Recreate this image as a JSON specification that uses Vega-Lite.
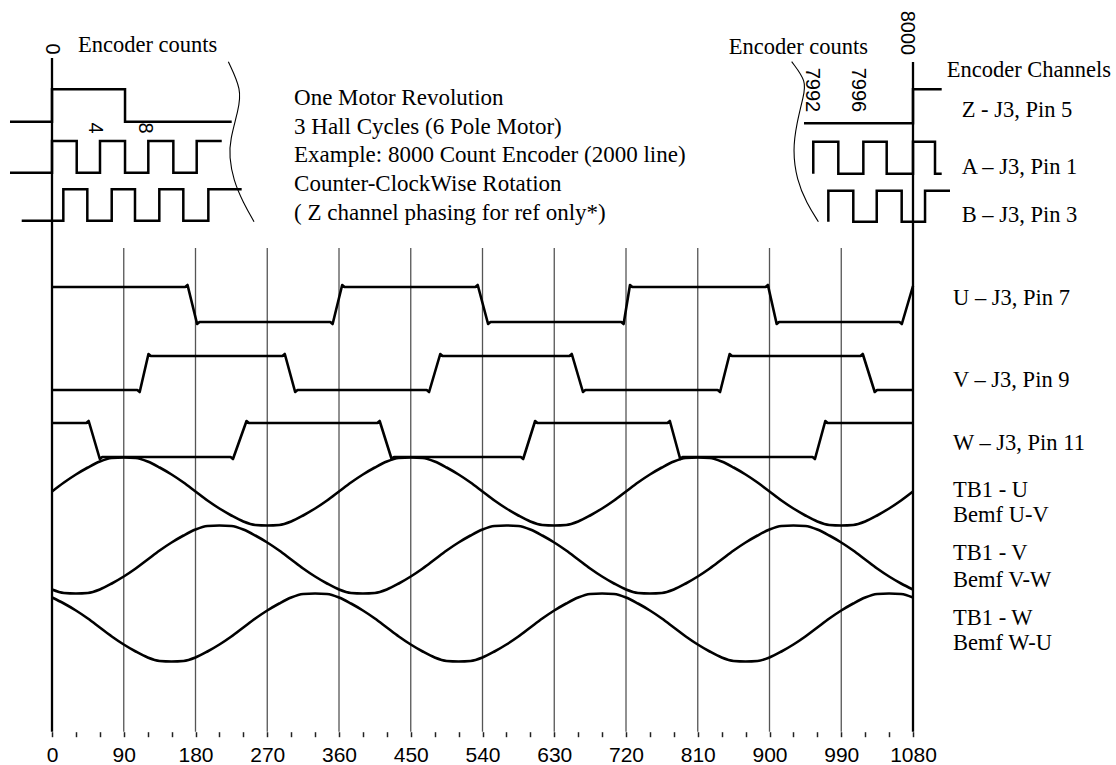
{
  "$schema": "https://vega.github.io/schema/vega-lite/v6.json",
  "width": 1116,
  "height": 765,
  "autosize": {"type": "none"},
  "padding": 0,
  "background": "white",
  "config": {"view": {"stroke": null}},
  "datasets": {
    "gridlines": [{"deg":90,"v":248},{"deg":180,"v":248},{"deg":270,"v":248},{"deg":360,"v":248},{"deg":450,"v":248},{"deg":540,"v":248},{"deg":630,"v":248},{"deg":720,"v":248},{"deg":810,"v":248},{"deg":900,"v":248},{"deg":990,"v":248}],
    "borders": [{"deg":0,"v":58},{"deg":1080,"v":62}],
    "hall": [
      {"sig":"U","deg":0,"v":287},{"sig":"U","deg":167,"v":287},{"sig":"U","deg":170,"v":285},{"sig":"U","deg":182,"v":324},{"sig":"U","deg":185,"v":322},
      {"sig":"U","deg":349,"v":322},{"sig":"U","deg":352,"v":324},{"sig":"U","deg":364,"v":285},{"sig":"U","deg":367,"v":287},
      {"sig":"U","deg":531,"v":287},{"sig":"U","deg":534,"v":285},{"sig":"U","deg":547,"v":324},{"sig":"U","deg":550,"v":322},
      {"sig":"U","deg":714,"v":322},{"sig":"U","deg":717,"v":324},{"sig":"U","deg":725,"v":285},{"sig":"U","deg":728,"v":287},
      {"sig":"U","deg":895,"v":287},{"sig":"U","deg":898,"v":285},{"sig":"U","deg":909,"v":324},{"sig":"U","deg":912,"v":322},
      {"sig":"U","deg":1063,"v":322},{"sig":"U","deg":1066,"v":324},{"sig":"U","deg":1080,"v":286},
      {"sig":"V","deg":0,"v":390},{"sig":"V","deg":107,"v":390},{"sig":"V","deg":110,"v":392},{"sig":"V","deg":121,"v":354},{"sig":"V","deg":124,"v":356},
      {"sig":"V","deg":289,"v":356},{"sig":"V","deg":292,"v":354},{"sig":"V","deg":305,"v":392},{"sig":"V","deg":308,"v":390},
      {"sig":"V","deg":470,"v":390},{"sig":"V","deg":473,"v":392},{"sig":"V","deg":487,"v":354},{"sig":"V","deg":490,"v":356},
      {"sig":"V","deg":649,"v":356},{"sig":"V","deg":652,"v":354},{"sig":"V","deg":666,"v":392},{"sig":"V","deg":669,"v":390},
      {"sig":"V","deg":835,"v":390},{"sig":"V","deg":838,"v":392},{"sig":"V","deg":850,"v":354},{"sig":"V","deg":853,"v":356},
      {"sig":"V","deg":1014,"v":356},{"sig":"V","deg":1017,"v":354},{"sig":"V","deg":1032,"v":392},{"sig":"V","deg":1035,"v":390},{"sig":"V","deg":1080,"v":390},
      {"sig":"W","deg":0,"v":423},{"sig":"W","deg":43,"v":423},{"sig":"W","deg":46,"v":421},{"sig":"W","deg":60,"v":459},{"sig":"W","deg":63,"v":457},
      {"sig":"W","deg":224,"v":457},{"sig":"W","deg":227,"v":459},{"sig":"W","deg":244,"v":421},{"sig":"W","deg":247,"v":423},
      {"sig":"W","deg":408,"v":423},{"sig":"W","deg":411,"v":421},{"sig":"W","deg":426,"v":459},{"sig":"W","deg":429,"v":457},
      {"sig":"W","deg":588,"v":457},{"sig":"W","deg":591,"v":459},{"sig":"W","deg":606,"v":421},{"sig":"W","deg":609,"v":423},
      {"sig":"W","deg":772,"v":423},{"sig":"W","deg":775,"v":421},{"sig":"W","deg":788,"v":459},{"sig":"W","deg":791,"v":457},
      {"sig":"W","deg":954,"v":457},{"sig":"W","deg":957,"v":459},{"sig":"W","deg":970,"v":421},{"sig":"W","deg":973,"v":423},{"sig":"W","deg":1080,"v":423}
    ],
    "bemf": [
      {"deg":0,"bu":491.5,"bv":589.5,"bw":597.5},{"deg":15,"bu":482.5,"bv":593,"bw":603.5},{"deg":30,"bu":474.5,"bv":593.5,"bw":610.5},{"deg":45,"bu":467.5,"bv":593,"bw":618.5},
      {"deg":60,"bu":461.5,"bv":589.5,"bw":627.5},{"deg":75,"bu":458,"bv":583.5,"bw":636.5},{"deg":90,"bu":457.5,"bv":576.5,"bw":644.5},{"deg":105,"bu":458,"bv":568.5,"bw":651.5},
      {"deg":120,"bu":461.5,"bv":559.5,"bw":657.5},{"deg":135,"bu":467.5,"bv":550.5,"bw":661},{"deg":150,"bu":474.5,"bv":542.5,"bw":661.5},{"deg":165,"bu":482.5,"bv":535.5,"bw":661},
      {"deg":180,"bu":491.5,"bv":529.5,"bw":657.5},{"deg":195,"bu":500.5,"bv":526,"bw":651.5},{"deg":210,"bu":508.5,"bv":525.5,"bw":644.5},{"deg":225,"bu":515.5,"bv":526,"bw":636.5},
      {"deg":240,"bu":521.5,"bv":529.5,"bw":627.5},{"deg":255,"bu":525,"bv":535.5,"bw":618.5},{"deg":270,"bu":525.5,"bv":542.5,"bw":610.5},{"deg":285,"bu":525,"bv":550.5,"bw":603.5},
      {"deg":300,"bu":521.5,"bv":559.5,"bw":597.5},{"deg":315,"bu":515.5,"bv":568.5,"bw":594},{"deg":330,"bu":508.5,"bv":576.5,"bw":593.5},{"deg":345,"bu":500.5,"bv":583.5,"bw":594},
      {"deg":360,"bu":491.5,"bv":589.5,"bw":597.5},{"deg":375,"bu":482.5,"bv":593,"bw":603.5},{"deg":390,"bu":474.5,"bv":593.5,"bw":610.5},{"deg":405,"bu":467.5,"bv":593,"bw":618.5},
      {"deg":420,"bu":461.5,"bv":589.5,"bw":627.5},{"deg":435,"bu":458,"bv":583.5,"bw":636.5},{"deg":450,"bu":457.5,"bv":576.5,"bw":644.5},{"deg":465,"bu":458,"bv":568.5,"bw":651.5},
      {"deg":480,"bu":461.5,"bv":559.5,"bw":657.5},{"deg":495,"bu":467.5,"bv":550.5,"bw":661},{"deg":510,"bu":474.5,"bv":542.5,"bw":661.5},{"deg":525,"bu":482.5,"bv":535.5,"bw":661},
      {"deg":540,"bu":491.5,"bv":529.5,"bw":657.5},{"deg":555,"bu":500.5,"bv":526,"bw":651.5},{"deg":570,"bu":508.5,"bv":525.5,"bw":644.5},{"deg":585,"bu":515.5,"bv":526,"bw":636.5},
      {"deg":600,"bu":521.5,"bv":529.5,"bw":627.5},{"deg":615,"bu":525,"bv":535.5,"bw":618.5},{"deg":630,"bu":525.5,"bv":542.5,"bw":610.5},{"deg":645,"bu":525,"bv":550.5,"bw":603.5},
      {"deg":660,"bu":521.5,"bv":559.5,"bw":597.5},{"deg":675,"bu":515.5,"bv":568.5,"bw":594},{"deg":690,"bu":508.5,"bv":576.5,"bw":593.5},{"deg":705,"bu":500.5,"bv":583.5,"bw":594},
      {"deg":720,"bu":491.5,"bv":589.5,"bw":597.5},{"deg":735,"bu":482.5,"bv":593,"bw":603.5},{"deg":750,"bu":474.5,"bv":593.5,"bw":610.5},{"deg":765,"bu":467.5,"bv":593,"bw":618.5},
      {"deg":780,"bu":461.5,"bv":589.5,"bw":627.5},{"deg":795,"bu":458,"bv":583.5,"bw":636.5},{"deg":810,"bu":457.5,"bv":576.5,"bw":644.5},{"deg":825,"bu":458,"bv":568.5,"bw":651.5},
      {"deg":840,"bu":461.5,"bv":559.5,"bw":657.5},{"deg":855,"bu":467.5,"bv":550.5,"bw":661},{"deg":870,"bu":474.5,"bv":542.5,"bw":661.5},{"deg":885,"bu":482.5,"bv":535.5,"bw":661},
      {"deg":900,"bu":491.5,"bv":529.5,"bw":657.5},{"deg":915,"bu":500.5,"bv":526,"bw":651.5},{"deg":930,"bu":508.5,"bv":525.5,"bw":644.5},{"deg":945,"bu":515.5,"bv":526,"bw":636.5},
      {"deg":960,"bu":521.5,"bv":529.5,"bw":627.5},{"deg":975,"bu":525,"bv":535.5,"bw":618.5},{"deg":990,"bu":525.5,"bv":542.5,"bw":610.5},{"deg":1005,"bu":525,"bv":550.5,"bw":603.5},
      {"deg":1020,"bu":521.5,"bv":559.5,"bw":597.5},{"deg":1035,"bu":515.5,"bv":568.5,"bw":594},{"deg":1050,"bu":508.5,"bv":576.5,"bw":593.5},{"deg":1065,"bu":500.5,"bv":583.5,"bw":594},
      {"deg":1080,"bu":491.5,"bv":589.5,"bw":597.5}
    ],
    "encoder": [
      {"sig":"ZL","deg":-52.7,"v":121.7},{"sig":"ZL","deg":0,"v":121.7},{"sig":"ZL","deg":0,"v":89.3},{"sig":"ZL","deg":91.6,"v":89.3},{"sig":"ZL","deg":91.6,"v":121.7},{"sig":"ZL","deg":225.4,"v":121.7},
      {"sig":"AL","deg":-52.7,"v":172.7},{"sig":"AL","deg":0,"v":172.7},{"sig":"AL","deg":0,"v":141},{"sig":"AL","deg":31,"v":141},{"sig":"AL","deg":31,"v":172.7},{"sig":"AL","deg":60.2,"v":172.7},
      {"sig":"AL","deg":60.2,"v":141},{"sig":"AL","deg":91.6,"v":141},{"sig":"AL","deg":91.6,"v":172.7},{"sig":"AL","deg":120.8,"v":172.7},{"sig":"AL","deg":120.8,"v":141},{"sig":"AL","deg":152.2,"v":141},
      {"sig":"AL","deg":152.2,"v":172.7},{"sig":"AL","deg":181.5,"v":172.7},{"sig":"AL","deg":181.5,"v":141},{"sig":"AL","deg":212.9,"v":141},
      {"sig":"BL","deg":-38,"v":220.7},{"sig":"BL","deg":14.2,"v":220.7},{"sig":"BL","deg":14.2,"v":189.3},{"sig":"BL","deg":44.3,"v":189.3},{"sig":"BL","deg":44.3,"v":220.7},{"sig":"BL","deg":74.9,"v":220.7},
      {"sig":"BL","deg":74.9,"v":189.3},{"sig":"BL","deg":104.1,"v":189.3},{"sig":"BL","deg":104.1,"v":220.7},{"sig":"BL","deg":134.6,"v":220.7},{"sig":"BL","deg":134.6,"v":189.3},{"sig":"BL","deg":164.7,"v":189.3},
      {"sig":"BL","deg":164.7,"v":220.7},{"sig":"BL","deg":196.1,"v":220.7},{"sig":"BL","deg":196.1,"v":189.3},{"sig":"BL","deg":237.9,"v":189.3},
      {"sig":"ZR","deg":943.3,"v":123.3},{"sig":"ZR","deg":1080,"v":123.3},{"sig":"ZR","deg":1080,"v":89.3},{"sig":"ZR","deg":1116,"v":89.3},
      {"sig":"AR","deg":954.9,"v":173.7},{"sig":"AR","deg":954.9,"v":141.7},{"sig":"AR","deg":986.3,"v":141.7},{"sig":"AR","deg":986.3,"v":173.7},{"sig":"AR","deg":1017.7,"v":173.7},{"sig":"AR","deg":1017.7,"v":141.7},
      {"sig":"AR","deg":1047,"v":141.7},{"sig":"AR","deg":1047,"v":173.7},{"sig":"AR","deg":1080,"v":173.7},{"sig":"AR","deg":1080,"v":141.7},{"sig":"AR","deg":1107.6,"v":141.7},{"sig":"AR","deg":1107.6,"v":173.7},{"sig":"AR","deg":1116,"v":173.7},
      {"sig":"BR","deg":973.8,"v":221.7},{"sig":"BR","deg":973.8,"v":190.7},{"sig":"BR","deg":1005.1,"v":190.7},{"sig":"BR","deg":1005.1,"v":221.7},{"sig":"BR","deg":1034.5,"v":221.7},{"sig":"BR","deg":1034.5,"v":190.7},
      {"sig":"BR","deg":1065.8,"v":190.7},{"sig":"BR","deg":1065.8,"v":221.7},{"sig":"BR","deg":1095.1,"v":221.7},{"sig":"BR","deg":1095.1,"v":190.7},{"sig":"BR","deg":1126.4,"v":190.7}
    ],
    "breaks": [
      {"sig":"L","deg":221.2,"v":61.7},{"sig":"L","deg":238.0,"v":90},{"sig":"L","deg":233.7,"v":110},{"sig":"L","deg":223.3,"v":140},{"sig":"L","deg":222.4,"v":156.7},{"sig":"L","deg":227.4,"v":180},{"sig":"L","deg":240.0,"v":203},{"sig":"L","deg":253.4,"v":221.7},
      {"sig":"R","deg":927.8,"v":61.7},{"sig":"R","deg":946.7,"v":81.7},{"sig":"R","deg":942.4,"v":96.7},{"sig":"R","deg":934.1,"v":123.3},{"sig":"R","deg":929.1,"v":150},{"sig":"R","deg":934.1,"v":180},{"sig":"R","deg":946.7,"v":203.3},{"sig":"R","deg":961.3,"v":221.7}
    ],
    "labels": [
      {"deg":32.6,"v":45,"text":"Encoder counts"},
      {"deg":1122.3,"v":70,"text":"Encoder Channels"},
      {"deg":1141.1,"v":110,"text":"Z - J3, Pin 5"},
      {"deg":1141.1,"v":166.7,"text":"A – J3, Pin 1"},
      {"deg":1141.1,"v":215,"text":"B – J3, Pin 3"},
      {"deg":1130.2,"v":298,"text":"U – J3, Pin 7"},
      {"deg":1130.2,"v":380,"text":"V – J3, Pin 9"},
      {"deg":1130.2,"v":443,"text":"W – J3, Pin 11"},
      {"deg":1130.2,"v":490,"text":"TB1 - U"},
      {"deg":1130.2,"v":515,"text":"Bemf U-V"},
      {"deg":1130.2,"v":553,"text":"TB1 - V"},
      {"deg":1130.2,"v":580,"text":"Bemf V-W"},
      {"deg":1130.2,"v":618,"text":"TB1 - W"},
      {"deg":1130.2,"v":643,"text":"Bemf W-U"}
    ],
    "notes": [
      {"deg":303.6,"v":98.3,"text":"One Motor Revolution"},
      {"deg":303.6,"v":126.7,"text":"3 Hall Cycles (6 Pole Motor)"},
      {"deg":303.6,"v":155,"text":"Example: 8000 Count Encoder (2000 line)"},
      {"deg":303.6,"v":184.3,"text":"Counter-ClockWise Rotation"},
      {"deg":303.6,"v":212.7,"text":"( Z channel phasing for ref only*)"}
    ],
    "rlabels": [{"deg":1023.6,"v":46.7,"text":"Encoder counts"}],
    "counts": [
      {"deg":-0.4,"v":49,"text":"0"},
      {"deg":53.9,"v":128,"text":"4"},
      {"deg":116.7,"v":128,"text":"8"},
      {"deg":952.9,"v":90,"text":"7992"},
      {"deg":1011.4,"v":90,"text":"7996"},
      {"deg":1072.1,"v":33,"text":"8000"}
    ]
  },
  "encoding": {
    "x": {
      "field": "deg",
      "type": "quantitative",
      "scale": {"domain": [-65.23, 1334.63], "nice": false, "zero": false},
      "axis": {
        "values": [0,30,60,90,120,150,180,210,240,270,300,330,360,390,420,450,480,510,540,570,600,630,660,690,720,750,780,810,840,870,900,930,960,990,1020,1050,1080],
        "format": "d",
        "labelExpr": "datum.value % 90 === 0 ? datum.label : ''",
        "domain": false,
        "grid": false,
        "ticks": true,
        "tickSize": 5,
        "tickColor": "#222",
        "tickWidth": 1.5,
        "labelFont": "Liberation Sans, Arial, Helvetica, sans-serif",
        "labelFontSize": 21,
        "labelColor": "black",
        "labelPadding": 8,
        "labelOverlap": false,
        "labelFlush": false,
        "offset": -33.3,
        "title": null
      }
    },
    "y": {
      "field": "v",
      "type": "quantitative",
      "scale": {"domain": [0, 765], "reverse": true, "nice": false, "zero": false},
      "axis": null
    }
  },
  "layer": [
    {
      "data": {"name": "gridlines"},
      "mark": {"type": "rule", "color": "#555", "strokeWidth": 1.3},
      "encoding": {"y2": {"datum": 731.7}}
    },
    {
      "data": {"name": "borders"},
      "mark": {"type": "rule", "color": "black", "strokeWidth": 2.3},
      "encoding": {"y2": {"datum": 731.7}}
    },
    {
      "data": {"values": [{"deg": 0}]},
      "mark": {"type": "rule", "color": "#666", "strokeWidth": 2.5},
      "encoding": {"x2": {"datum": 1080}, "y": {"datum": 731.7}}
    },
    {
      "data": {"name": "hall"},
      "mark": {"type": "line", "color": "black", "strokeWidth": 2.6, "strokeJoin": "round"},
      "encoding": {"detail": {"field": "sig"}, "order": {"value": null}}
    },
    {
      "data": {"name": "bemf"},
      "transform": [{"fold": ["bu", "bv", "bw"], "as": ["sig", "v"]}],
      "mark": {"type": "line", "color": "black", "strokeWidth": 2.6, "interpolate": "monotone"},
      "encoding": {"detail": {"field": "sig"}}
    },
    {
      "data": {"name": "encoder"},
      "mark": {"type": "line", "color": "black", "strokeWidth": 2.5, "strokeJoin": "miter"},
      "encoding": {"detail": {"field": "sig"}, "order": {"value": null}}
    },
    {
      "data": {"name": "breaks"},
      "mark": {"type": "line", "color": "black", "strokeWidth": 1.1, "interpolate": "basis"},
      "encoding": {"detail": {"field": "sig"}, "order": {"value": null}}
    },
    {
      "data": {"name": "labels"},
      "mark": {"type": "text", "align": "left", "baseline": "middle", "font": "Liberation Serif, Times New Roman, DejaVu Serif, serif", "fontSize": 22.5, "color": "black"},
      "encoding": {"text": {"field": "text"}}
    },
    {
      "data": {"name": "notes"},
      "mark": {"type": "text", "align": "left", "baseline": "middle", "font": "Liberation Serif, Times New Roman, DejaVu Serif, serif", "fontSize": 23, "color": "black"},
      "encoding": {"text": {"field": "text"}}
    },
    {
      "data": {"name": "rlabels"},
      "mark": {"type": "text", "align": "right", "baseline": "middle", "font": "Liberation Serif, Times New Roman, DejaVu Serif, serif", "fontSize": 22.5, "color": "black"},
      "encoding": {"text": {"field": "text"}}
    },
    {
      "data": {"name": "counts"},
      "mark": {"type": "text", "align": "center", "baseline": "middle", "angle": 90, "font": "Liberation Sans, Arial, Helvetica, sans-serif", "fontSize": 20, "color": "black"},
      "encoding": {"text": {"field": "text"}}
    }
  ]
}
